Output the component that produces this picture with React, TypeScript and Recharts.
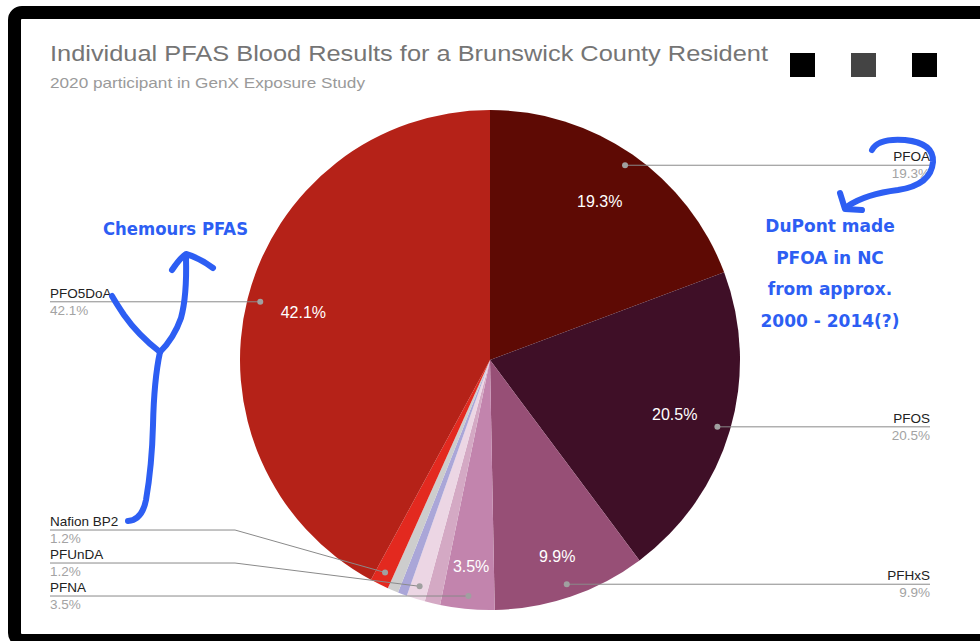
import React from "react";
import { PieChart, Pie, Cell } from "recharts";

const sliceNames = [
  "PFOA",
  "PFOS",
  "PFHxS",
  "PFNA",
  "Other 1",
  "PFUnDA",
  "Other 2",
  "Other 3",
  "Nafion BP2",
  "PFO5DoA",
];
const sliceValues = [19.3, 20.5, 9.9, 3.5, 1.0, 1.2, 0.6, 0.7, 1.2, 42.1];
const sliceColors = [
  "#5e0a04",
  "#3f0f27",
  "#974f76",
  "#c284ad",
  "#d4a9c4",
  "#ecd6e4",
  "#aaa6d8",
  "#cdcdcd",
  "#e3291f",
  "#b52218",
];
const labeledNames = ["PFOA", "PFOS", "PFHxS", "PFNA", "PFUnDA", "Nafion BP2", "PFO5DoA"];

const chartTitle = "Individual PFAS Blood Results for a Brunswick County Resident";
const chartSubtitle = "2020 participant in GenX Exposure Study";
const legendSwatches = ["#000000", "#444444", "#000000"];
const noteLeft = "Chemours PFAS";
const noteRight = ["DuPont made", "PFOA in NC", "from approx.", "2000 - 2014(?)"];

const W = 980;
const H = 641;
const CX = 490;
const CY = 360;
const R = 250;
const DOT_R = 237;
const RAD = Math.PI / 180;
const FONT = "'Liberation Sans', Arial, sans-serif";
const HAND = "'DejaVu Sans', sans-serif";
const BLUE = "#2d5ef3";

const total = sliceValues.reduce((a, b) => a + b, 0);
const pieData = sliceNames.map((name, i) => ({ name, value: sliceValues[i] }));

// push left-side labels apart so the small slices at the bottom don't collide
const leftLabelY = (() => {
  let cum = 0;
  const pts: { name: string; y: number }[] = [];
  sliceValues.forEach((v, i) => {
    const mid = 90 - (360 * (cum + v / 2)) / total;
    cum += v;
    if (!labeledNames.includes(sliceNames[i])) return;
    if (Math.cos(mid * RAD) >= 0) return;
    pts.push({ name: sliceNames[i], y: CY - DOT_R * Math.sin(mid * RAD) });
  });
  pts.sort((a, b) => b.y - a.y);
  const out: Record<string, number> = {};
  let prev = Infinity;
  pts.forEach((p) => {
    const y = Math.min(p.y, prev - 33);
    out[p.name] = y;
    prev = y;
  });
  return out;
})();

const renderLabel = (props: any) => {
  const { cx, cy, midAngle, outerRadius, index } = props;
  const name = sliceNames[index];
  const pct = sliceValues[index] / total;
  const pctText = `${(pct * 100).toFixed(1)}%`;
  const cos = Math.cos(-midAngle * RAD);
  const sin = Math.sin(-midAngle * RAD);

  const inR = outerRadius * (pct >= 0.15 ? 0.77 : 0.83);
  const inner =
    pct >= 0.03 ? (
      <text
        x={cx + inR * cos}
        y={cy + inR * sin}
        fill="#fff"
        fontSize={16}
        fontFamily={FONT}
        textAnchor="middle"
        dominantBaseline="central"
      >
        {pctText}
      </text>
    ) : null;

  if (!labeledNames.includes(name)) return <g>{inner}</g>;

  const dotR = outerRadius * (DOT_R / R);
  const dx = cx + dotR * cos;
  const dy = cy + dotR * sin;
  const right = cos >= 0;
  const ly = right ? dy : leftLabelY[name] ?? dy;
  const endX = right ? 930 : 50;
  const path =
    Math.abs(ly - dy) > 2
      ? `M${dx},${dy} L235,${ly} L${endX},${ly}`
      : `M${dx},${dy} L${endX},${dy}`;

  return (
    <g>
      {inner}
      <path d={path} stroke="#8a8a8a" strokeWidth={1} fill="none" />
      <circle cx={dx} cy={dy} r={3} fill="#a0a0a0" />
      <text
        x={endX}
        y={ly - 4}
        fontSize={13.5}
        fontFamily={FONT}
        fill="#222"
        textAnchor={right ? "end" : "start"}
      >
        {name}
      </text>
      <text
        x={endX}
        y={ly + 13}
        fontSize={13.5}
        fontFamily={FONT}
        fill="#a3a3a3"
        textAnchor={right ? "end" : "start"}
      >
        {pctText}
      </text>
    </g>
  );
};

export default function App() {
  return (
    <div
      style={{
        position: "absolute",
        left: 0,
        top: 0,
        width: W,
        height: H,
        overflow: "hidden",
        background: "#fff",
      }}
    >
      <div
        style={{
          position: "absolute",
          left: 8,
          top: 6,
          width: 1040,
          height: 615,
          border: "13px solid #000",
          borderRadius: 14,
          boxSizing: "content-box",
        }}
      />
      <div style={{ position: "absolute", left: 0, top: 0 }}>
        <PieChart width={W} height={H} margin={{ top: 0, right: 0, bottom: 0, left: 0 }}>
          <Pie
            data={pieData}
            dataKey="value"
            nameKey="name"
            cx={CX}
            cy={CY}
            outerRadius={R}
            startAngle={90}
            endAngle={-270}
            stroke="none"
            label={renderLabel}
            labelLine={false}
            isAnimationActive={false}
          >
            {pieData.map((d, i) => (
              <Cell key={d.name} fill={sliceColors[i]} />
            ))}
          </Pie>
        </PieChart>
      </div>
      <svg
        width={W}
        height={H}
        style={{ position: "absolute", left: 0, top: 0, pointerEvents: "none" }}
      >
        <text x={50} y={61} fontSize={22} fontFamily={FONT} fill="#757575" textLength={718} lengthAdjust="spacingAndGlyphs">
          {chartTitle}
        </text>
        <text x={50} y={88} fontSize={15} fontFamily={FONT} fill="#9a9a9a" textLength={315} lengthAdjust="spacingAndGlyphs">
          {chartSubtitle}
        </text>
        {legendSwatches.map((c, i) => (
          <rect key={i} x={790 + i * 61} y={53} width={25} height={24} fill={c} />
        ))}

        {/* hand drawn notes */}
        <text x={103} y={235} fontSize={17} fontWeight="bold" fontFamily={HAND} fill={BLUE} textLength={145} lengthAdjust="spacingAndGlyphs">
          {noteLeft}
        </text>
        {noteRight.map((t, i) => (
          <text
            key={t}
            x={830}
            y={232 + i * 31.5}
            fontSize={17}
            fontWeight="bold"
            fontFamily={HAND}
            fill={BLUE}
            textAnchor="middle"
          >
            {t}
          </text>
        ))}
        <g stroke={BLUE} strokeWidth={6} fill="none" strokeLinecap="round" strokeLinejoin="round">
          <path d="M128 521 Q142 520 146 500 Q152 465 153 425 Q154 380 160 352" />
          <path d="M160 352 Q138 335 124 315 Q116 303 112 296" />
          <path d="M160 352 Q174 338 181 318 Q187 296 186 258" />
          <path d="M172 270 Q180 258 186 254 Q200 258 213 268" />
          <path d="M872 150 Q878 138 905 140 Q934 143 933 162 Q931 185 898 190 Q866 194 848 206" />
          <path d="M840 193 L845 209 L862 210" />
        </g>
      </svg>
    </div>
  );
}
